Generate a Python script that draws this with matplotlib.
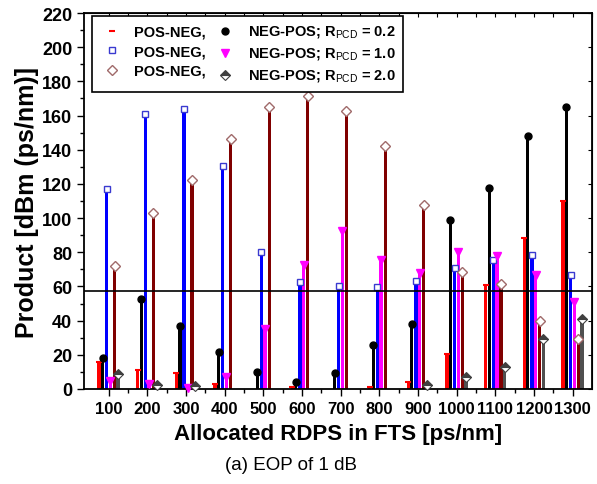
import numpy as np
import matplotlib.pyplot as plt
from matplotlib.lines import Line2D

plt.rcParams['font.family'] = ['Liberation Sans', 'DejaVu Sans']
plt.rcParams['mathtext.fontset'] = 'custom'
plt.rcParams['mathtext.rm'] = 'Liberation Sans'

rdps = ['100', '200', '300', '400', '500', '600', '700', '800', '900',
        '1000', '1100', '1200', '1300']

# POS-NEG / NEG-POS products for R_PCD = 0.2, 1.0, 2.0
pos_neg_02 = [16, 11.3, 9.2, 2.9, 0, 1.4, 0, 1, 4.3, 20.7, 61, 88.5, 110]
neg_pos_02 = [18.3, 52.7, 36.9, 21.6, 10, 4.3, 9.4, 25.7, 37.8, 98.7, 117.6, 148.2, 165.2]
pos_neg_10 = [117, 160.7, 163.8, 130.5, 80.3, 62.4, 60.1, 59.7, 63, 70.8, 75.7, 78.2, 66.5]
neg_pos_10 = [4.9, 3.1, 0.8, 7.2, 35, 72.6, 92.5, 75.5, 67.7, 80.3, 77.6, 66.9, 50.7]
pos_neg_20 = [72.2, 103, 122, 146.5, 164.8, 171.6, 162.9, 142.2, 107.7, 68.3, 61.2, 39.6, 29.3]
neg_pos_20 = [8.8, 2.3, 1.5, 0, 0, 0, 0, 0, 2.3, 7.2, 12.7, 29.3, 41]

threshold = 57.5

x = np.arange(len(rdps))

fig = plt.figure(figsize=(5.97, 4.85), dpi=100)
ax = fig.add_axes([0.1407, 0.1959, 0.8509, 0.7752])

series = [
    (pos_neg_02, -0.25, 'red', dict(marker='_', color='red', ms=4, mew=1.5)),
    (neg_pos_02, -0.16, 'black', dict(marker='o', color='black', ms=5)),
    (pos_neg_10, -0.05, '#0000ff', dict(marker='s', mfc='white', mec='#3a3ad0', ms=5, mew=1)),
    (neg_pos_10, 0.04, '#ff00ff', dict(marker='v', color='#ff00ff', ms=6)),
    (pos_neg_20, 0.15, '#800000', dict(marker='D', mfc='white', mec='#a06a6a', ms=5.5, mew=1)),
    (neg_pos_20, 0.24, '#505050', dict(marker='D', color='#404040', fillstyle='top',
                                       mfc='#404040', mfcalt='white', mec='#404040', ms=5.5, mew=0.8)),
]

for vals, off, col, mk in series:
    ax.bar(x + off, vals, width=0.085, color=col, zorder=2)
    v = np.array(vals)
    keep = v > 0.5
    ax.plot((x + off)[keep], v[keep], ls='none', zorder=3, clip_on=False, **mk)

ax.axhline(threshold, color='black', lw=1.2, zorder=4)

ax.set_xlim(-0.64, 12.5)
ax.set_ylim(0, 220)
ax.set_xticks(x)
ax.set_xticklabels(rdps, fontsize=12, fontweight='bold')
ax.set_xticks(x[:-1] + 0.5, minor=True)
ax.set_yticks(np.arange(0, 221, 20))
ax.set_yticks(np.arange(10, 220, 20), minor=True)
for lab in ax.get_yticklabels():
    lab.set_fontsize(13)
    lab.set_fontweight('bold')

ax.tick_params(which='both', direction='out', top=False, right=False, width=1)
ax.tick_params(which='major', length=5)
ax.tick_params(which='minor', length=3)
for s in ax.spines.values():
    s.set_linewidth(1.3)

# inward ticks on top and right
ax2 = ax.secondary_xaxis('top')
ax2.set_xticks(np.arange(0, 12.6, 0.5))
ax2.tick_params(direction='in', length=3, labeltop=False)
ax3 = ax.secondary_yaxis('right')
ax3.set_yticks(np.arange(0, 221, 20))
ax3.tick_params(direction='in', length=3, labelright=False)

ax.set_xlabel('Allocated RDPS in FTS [ps/nm]', fontsize=16, fontweight='bold', labelpad=5)
ax.set_ylabel('Product [dBm (ps/nm)]', fontsize=18, fontweight='bold', labelpad=2)

handles = [Line2D([], [], ls='none', **s[3]) for s in series]
handles = [handles[0], handles[2], handles[4], handles[1], handles[3], handles[5]]
labels = ['POS-NEG,', 'POS-NEG,', 'POS-NEG,',
          r'NEG-POS; R$_{\rm PCD}$ = 0.2',
          r'NEG-POS; R$_{\rm PCD}$ = 1.0',
          r'NEG-POS; R$_{\rm PCD}$ = 2.0']
leg = ax.legend(handles, labels, ncol=2, loc='upper left', bbox_to_anchor=(0.016, 0.992),
                borderaxespad=0, fancybox=False, edgecolor='black', framealpha=1,
                prop={'weight': 'bold', 'size': 10.5}, handlelength=1.6,
                handletextpad=0.75, columnspacing=0.5, labelspacing=0.38, borderpad=0.55)
leg.get_frame().set_linewidth(1.2)
leg.set_zorder(5)

fig.text(0.488, 0.04, '(a) EOP of 1 dB', fontsize=13.5, ha='center', va='center')

fig.savefig('out.png', dpi=100)
